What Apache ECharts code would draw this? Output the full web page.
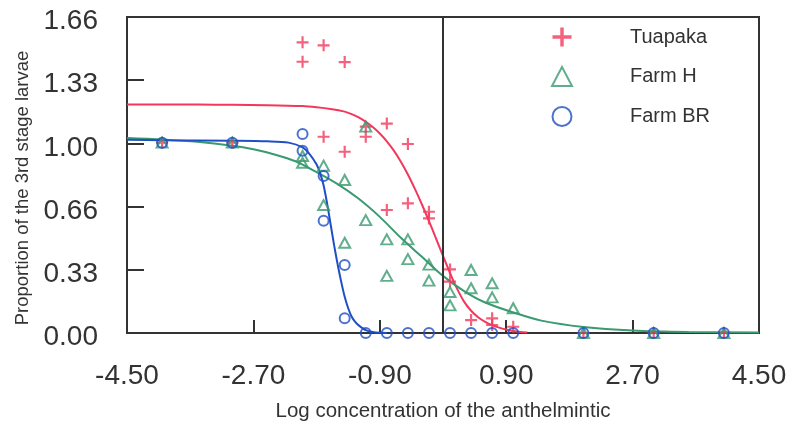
<!DOCTYPE html>
<html><head><meta charset="utf-8">
<script src="https://cdn.jsdelivr.net/npm/echarts@6/dist/echarts.min.js"></script>
<style>html,body{margin:0;padding:0;background:#fff}#c{width:793px;height:428px}</style>
</head><body><div id="c"></div>
<script>
const seriesNames = ['Tuapaka', 'Farm H', 'Farm BR'];

const tuapakaX = [-4,-3,-2,-2,-1.7,-1.7,-1.4,-1.4,-1.1,-1.1,-0.8,-0.8,-0.5,-0.5,-0.2,-0.2,0.1,0.1,0.4,0.7,0.7,1.0,2,3,4];
const tuapakaY = [1.0,1.0,1.527,1.425,1.511,1.031,1.423,0.952,1.084,1.031,1.10,0.646,0.993,0.681,0.637,0.602,0.334,0.27,0.068,0.077,0.042,0.033,0,0,0];

const farmHX = [-4,-3,-2,-2,-1.7,-1.7,-1.4,-1.4,-1.1,-1.1,-0.8,-0.8,-0.5,-0.5,-0.2,-0.2,0.1,0.1,0.4,0.4,0.7,0.7,1.0,2,3,4];
const farmHY = [1.0,1.0,0.93,0.894,0.879,0.672,0.804,0.474,1.084,0.593,0.492,0.30,0.492,0.388,0.359,0.275,0.215,0.145,0.331,0.235,0.261,0.187,0.13,0,0,0];

const farmBRX = [-4,-3,-2,-2,-1.7,-1.7,-1.4,-1.4,-1.1,-0.8,-0.5,-0.2,0.1,0.4,0.7,1.0,2,3,4];
const farmBRY = [1.0,1.0,1.045,0.957,0.825,0.59,0.357,0.077,0,0,0,0,0,0,0,0,0,0,0];

const tuapakaFitX = [-4.5,-4,-3.5,-3,-2.5,-2,-1.8,-1.6,-1.4,-1.3,-1.2,-1.1,-1.0,-0.9,-0.8,-0.7,-0.6,-0.5,-0.4,-0.3,-0.2,-0.1,0,0.1,0.2,0.3,0.4,0.5,0.6,0.7,0.8,0.9,1.0,1.1,1.2];
const tuapakaFitY = [1.2,1.2,1.2,1.199,1.197,1.192,1.186,1.177,1.163,1.15,1.133,1.11,1.082,1.048,1.007,0.958,0.9,0.833,0.757,0.675,0.588,0.497,0.405,0.315,0.233,0.165,0.117,0.083,0.059,0.041,0.028,0.018,0.01,0.005,0.002];

const farmHFitX = [-4.5,-4,-3.5,-3,-2.7,-2.4,-2.1,-1.8,-1.5,-1.2,-0.9,-0.6,-0.3,0,0.3,0.6,1.0,1.4,2.0,2.7,3.5,4.5];
const farmHFitY = [1.025,1.017,1.005,0.984,0.965,0.938,0.902,0.845,0.782,0.705,0.61,0.5,0.4,0.3,0.22,0.16,0.108,0.065,0.032,0.013,0.005,0.002];

const farmBRFitX = [-4.5,-4,-3,-2.5,-2.2,-2.0,-1.9,-1.8,-1.75,-1.7,-1.65,-1.6,-1.55,-1.5,-1.45,-1.4,-1.35,-1.3,-1.25,-1.2,-1.1,-1.0,-0.9,-0.8];
const farmBRFitY = [1.015,1.013,1.01,1.007,1.0,0.975,0.94,0.885,0.84,0.775,0.68,0.57,0.46,0.36,0.27,0.19,0.13,0.085,0.058,0.04,0.015,0.005,0.001,0];

const xAxisTitle = 'Log concentration of the anthelmintic';
const yAxisTitle = 'Proportion of the 3rd stage larvae';

const RED = '#f2385c', GREEN = '#3a9a70', BLUE = '#1f4fc4', INK = '#333';
const FONT = 'Liberation Sans, Arial, sans-serif';
const PLUS = 'path://M4.5,0H6.5V4.5H11V6.5H6.5V11H4.5V6.5H0V4.5H4.5Z';

const zip = (xs, ys) => xs.map((x, i) => [x, ys[i]]);

const chart = echarts.init(document.getElementById('c'), null, {renderer: 'canvas'});

function fit(name, xs, ys, color) {
  return {
    name: name, type: 'line', data: zip(xs, ys), smooth: 0.3,
    showSymbol: false, silent: true, z: 2,
    lineStyle: {color: color, width: 2}, itemStyle: {color: color}
  };
}

chart.setOption({
  animation: false,
  backgroundColor: '#fff',
  grid: {left: 127, right: 34, top: 17, bottom: 95, show: true, borderColor: INK, borderWidth: 2, backgroundColor: 'transparent'},
  legend: {
    orient: 'vertical', left: 546, top: 22, itemWidth: 20, itemHeight: 19, itemGap: 19,
    textStyle: {fontFamily: FONT, fontSize: 20, color: INK, padding: [0, 0, 0, 53]},
    data: [
      {name: seriesNames[0], icon: PLUS, itemStyle: {color: RED, borderWidth: 0}},
      {name: seriesNames[1], icon: 'triangle', itemStyle: {color: 'transparent', borderColor: GREEN, borderWidth: 2}},
      {name: seriesNames[2], icon: 'circle', itemStyle: {color: 'transparent', borderColor: BLUE, borderWidth: 2}}
    ]
  },
  xAxis: {
    type: 'value', min: -4.5, max: 4.5, interval: 1.8,
    name: xAxisTitle, nameLocation: 'middle', nameGap: 68,
    nameTextStyle: {fontFamily: FONT, fontSize: 20.5, color: INK},
    axisLine: {onZero: false, lineStyle: {color: INK, width: 2}},
    axisTick: {inside: true, length: 13, lineStyle: {color: INK, width: 2}},
    axisLabel: {fontFamily: FONT, fontSize: 28, color: INK, margin: 29, formatter: v => v.toFixed(2)},
    splitLine: {show: false}
  },
  yAxis: {
    type: 'value', min: 0, max: 1.66, interval: 0.332,
    name: yAxisTitle, nameLocation: 'middle', nameGap: 94, nameRotate: 90,
    nameTextStyle: {fontFamily: FONT, fontSize: 18.5, color: INK, padding: [0, 26, 0, 0]},
    axisLine: {onZero: false, lineStyle: {color: INK, width: 2}},
    axisTick: {inside: true, length: 17, lineStyle: {color: INK, width: 2}},
    axisLabel: {fontFamily: FONT, fontSize: 28, color: INK, margin: 29,
      formatter: v => '{t|' + v.toFixed(2) + '}',
      rich: {t: {fontFamily: FONT, fontSize: 28, color: INK, padding: [9, 0, 0, 0]}}},
    splitLine: {show: false}
  },
  series: [
    Object.assign(fit('Tuapaka fit', tuapakaFitX, tuapakaFitY, RED), {
      markLine: {silent: true, symbol: 'none', label: {show: false},
        lineStyle: {color: INK, width: 2, type: 'solid'}, data: [{xAxis: 0}]}
    }),
    fit('Farm H fit', farmHFitX, farmHFitY, GREEN),
    fit('Farm BR fit', farmBRFitX, farmBRFitY, BLUE),
    {name: seriesNames[0], type: 'scatter', data: zip(tuapakaX, tuapakaY), symbol: PLUS, symbolSize: 12, z: 4,
      itemStyle: {color: RED}},
    {name: seriesNames[1], type: 'scatter', data: zip(farmHX, farmHY), symbol: 'triangle', symbolSize: [11, 10], z: 4,
      itemStyle: {color: 'transparent', borderColor: GREEN, borderWidth: 2}},
    {name: seriesNames[2], type: 'scatter', data: zip(farmBRX, farmBRY), symbol: 'circle', symbolSize: 10, z: 4,
      itemStyle: {color: 'transparent', borderColor: BLUE, borderWidth: 2}}
  ]
});
</script></body></html>
